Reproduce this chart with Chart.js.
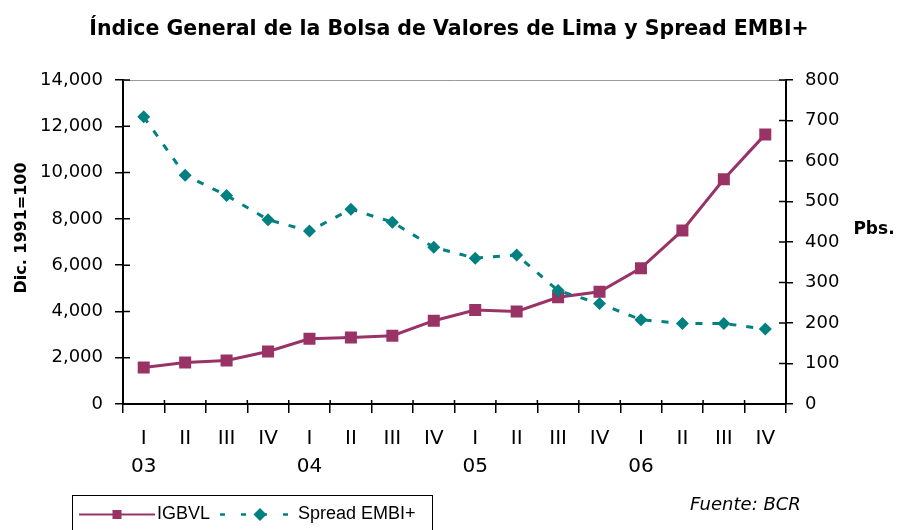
<!DOCTYPE html>
<html>
<head>
<meta charset="utf-8">
<script src="https://cdn.jsdelivr.net/npm/chart.js@4/dist/chart.umd.min.js"></script>
<style>
  html, body { margin: 0; padding: 0; background: #fff; }
  #wrap { width: 898px; height: 530px; }
</style>
</head>
<body>
<div id="wrap"><canvas id="chart" width="898" height="530"></canvas></div>
<script>
'use strict';

// quarters 2003 - 2006
var quarters = ['I', 'II', 'III', 'IV', 'I', 'II', 'III', 'IV', 'I', 'II', 'III', 'IV', 'I', 'II', 'III', 'IV'];
var years = ['03', '', '', '', '04', '', '', '', '05', '', '', '', '06', '', '', ''];

// IGBVL (Dic. 1991=100)
var igbvl = [1575, 1790, 1880, 2270, 2820, 2875, 2950, 3600, 4060, 4000, 4610, 4850, 5870, 7500, 9710, 11650];
// Spread EMBI+ (pbs.)
var spread = [709, 565, 515, 455, 427, 481, 449, 387, 360, 368, 280, 248, 208, 199, 199, 185];

var leftMax = 14000, leftStep = 2000;
var rightMax = 800, rightStep = 100;

var maroon = '#993366';
var teal = '#008080';

var labels = [];
for (var i = 0; i < quarters.length; i++) {
  labels.push([quarters[i], years[i]]);
}

var ctx = document.getElementById('chart').getContext('2d');

// inward tick halves, axis titles, legend box and source note
var extras = {
  id: 'extras',
  afterDraw: function (chart) {
    var c = chart.ctx;
    var a = chart.chartArea;
    var sx = chart.scales.x, sy = chart.scales.y, sy1 = chart.scales.y1;
    c.save();

    // top border of plot area
    c.strokeStyle = '#9a9a9a';
    c.lineWidth = 1;
    c.beginPath();
    c.moveTo(a.left, a.top + 0.5);
    c.lineTo(a.right, a.top + 0.5);
    c.stroke();

    c.strokeStyle = '#000';
    c.lineWidth = 1.5;
    c.beginPath();
    sy.ticks.forEach(function (t) {
      var p = sy.getPixelForValue(t.value);
      c.moveTo(a.left, p);
      c.lineTo(a.left + 7, p);
    });
    sy1.ticks.forEach(function (t) {
      var p = sy1.getPixelForValue(t.value);
      c.moveTo(a.right - 7, p);
      c.lineTo(a.right, p);
    });
    for (var k = 0; k <= labels.length; k++) {
      var px = sx.getPixelForValue(k - 0.5);
      c.moveTo(px, a.bottom - 4);
      c.lineTo(px, a.bottom);
    }
    c.stroke();

    // axis titles
    c.fillStyle = '#000';
    c.font = 'bold 16px "DejaVu Sans"';
    c.textAlign = 'center';
    c.textBaseline = 'middle';
    c.save();
    c.translate(22, 228);
    c.rotate(-Math.PI / 2);
    c.fillText('Dic. 1991=100', 0, 0);
    c.restore();
    c.font = 'bold 17px "DejaVu Sans"';
    c.fillText('Pbs.', 874, 230);

    // legend
    c.strokeStyle = '#000';
    c.lineWidth = 1;
    c.strokeRect(72.5, 495.5, 360, 40);
    var ly = 514.5;
    c.strokeStyle = maroon;
    c.lineWidth = 2;
    c.beginPath();
    c.moveTo(79, ly);
    c.lineTo(155, ly);
    c.stroke();
    c.fillStyle = maroon;
    c.fillRect(112.5, ly - 4.5, 9, 9);
    c.strokeStyle = teal;
    c.lineWidth = 2.5;
    c.setLineDash([5, 16]);
    c.beginPath();
    c.moveTo(220, ly);
    c.lineTo(293, ly);
    c.stroke();
    c.setLineDash([]);
    c.fillStyle = teal;
    c.beginPath();
    c.moveTo(260, ly - 6.5);
    c.lineTo(266.5, ly);
    c.lineTo(260, ly + 6.5);
    c.lineTo(253.5, ly);
    c.closePath();
    c.fill();
    c.fillStyle = '#000';
    c.font = '18px "Liberation Sans"';
    c.textAlign = 'left';
    c.fillText('IGBVL', 157, ly);
    c.fillText('Spread EMBI+', 298, ly);

    c.font = 'italic 18px "DejaVu Sans"';
    c.fillText('Fuente: BCR', 690, 505);
    c.restore();
  }
};

var tickFont = { family: 'DejaVu Sans', size: 18 };

var chart = new Chart(ctx, {
  type: 'line',
  data: {
    labels: labels,
    datasets: [
      {
        label: 'IGBVL',
        data: igbvl,
        yAxisID: 'y',
        order: 2,
        borderColor: maroon,
        backgroundColor: maroon,
        borderWidth: 3,
        pointStyle: 'rect',
        pointRadius: 8.5,
        pointBorderWidth: 0,
        pointBackgroundColor: maroon,
        tension: 0,
        fill: false
      },
      {
        label: 'Spread EMBI+',
        data: spread,
        yAxisID: 'y1',
        order: 1,
        borderColor: teal,
        backgroundColor: teal,
        borderWidth: 3,
        borderDash: [7, 10],
        pointStyle: 'rectRot',
        pointRadius: 6.5,
        pointBorderWidth: 0,
        pointBackgroundColor: teal,
        tension: 0,
        fill: false
      }
    ]
  },
  options: {
    responsive: false,
    animation: false,
    devicePixelRatio: 1,
    layout: { padding: 0 },
    plugins: {
      legend: { display: false },
      tooltip: { enabled: false },
      title: {
        display: true,
        text: 'Índice General de la Bolsa de Valores de Lima y Spread EMBI+',
        color: '#000',
        font: { family: 'DejaVu Sans', size: 20.5, weight: 'bold', lineHeight: 1.2 },
        padding: { top: 17, bottom: 38.4 }
      }
    },
    scales: {
      x: {
        offset: true,
        grid: { offset: true, drawOnChartArea: false, tickLength: 9, color: '#000', lineWidth: 1.5 },
        border: { color: '#000', width: 2 },
        ticks: {
          color: '#000',
          font: { family: 'DejaVu Sans', size: 20, lineHeight: 1.4 },
          padding: 12,
          maxRotation: 0,
          autoSkip: false
        },
        afterFit: function (s) { s.height = 126; }
      },
      y: {
        position: 'left',
        min: 0,
        max: leftMax,
        grid: { drawOnChartArea: false, tickLength: 8, color: '#000', lineWidth: 1.5 },
        border: { color: '#000', width: 2 },
        ticks: {
          stepSize: leftStep,
          color: '#000',
          font: tickFont,
          padding: 12,
          callback: function (v) { return v.toLocaleString('en-US'); }
        },
        afterFit: function (s) { s.width = 123; }
      },
      y1: {
        position: 'right',
        min: 0,
        max: rightMax,
        grid: { drawOnChartArea: false, tickLength: 7, color: '#000', lineWidth: 1.5 },
        border: { color: '#000', width: 2 },
        ticks: {
          stepSize: rightStep,
          color: '#000',
          font: tickFont,
          padding: 12
        },
        afterFit: function (s) { s.width = 112; }
      }
    }
  },
  plugins: [extras]
});
</script>
</body>
</html>
